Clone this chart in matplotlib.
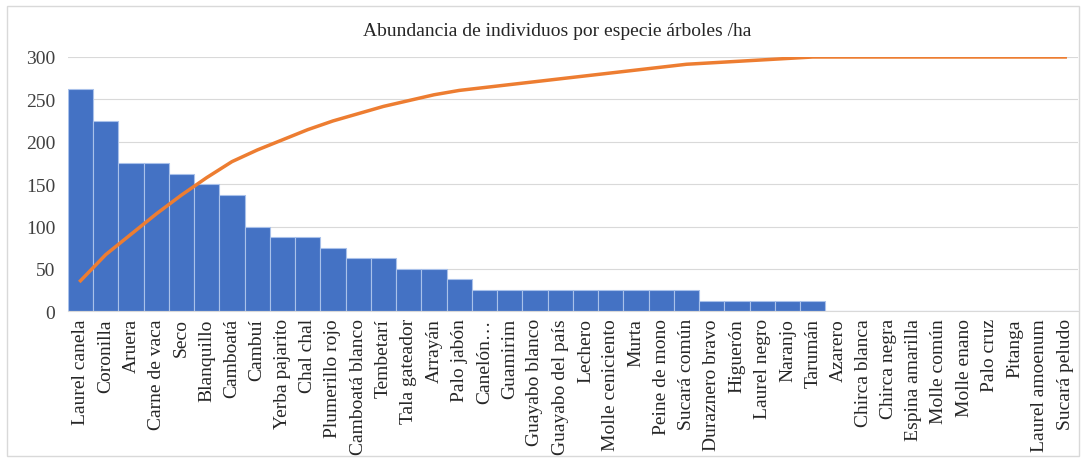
import numpy as np
import matplotlib.pyplot as plt
from matplotlib.patches import Rectangle

# -----------------------------
# Data
# -----------------------------
especies = [
    "Laurel canela", "Coronilla", "Aruera", "Carne de vaca", "Seco",
    "Blanquillo", "Camboatá", "Cambuí", "Yerba pajarito", "Chal chal",
    "Plumerillo rojo", "Camboatá blanco", "Tembetarí", "Tala gateador",
    "Arrayán", "Palo jabón", "Canelón…", "Guamirim", "Guayabo blanco",
    "Guayabo del país", "Lechero", "Molle ceniciento", "Murta",
    "Peine de mono", "Sucará común", "Duraznero bravo", "Higuerón",
    "Laurel negro", "Naranjo", "Tarumán", "Azarero", "Chirca blanca",
    "Chirca negra", "Espina amarilla", "Molle común", "Molle enano",
    "Palo cruz", "Pitanga", "Laurel amoenum", "Sucará peludo",
]
abundancia = [
    262.5, 225, 175, 175, 162.5,
    150, 137.5, 100, 87.5, 87.5,
    75, 62.5, 62.5, 50,
    50, 37.5, 25, 25, 25,
    25, 25, 25, 25,
    25, 25, 12.5, 12.5,
    12.5, 12.5, 12.5, 0, 0,
    0, 0, 0, 0,
    0, 0, 0, 0,
]
titulo = "Abundancia de individuos por especie árboles /ha"

# cumulative percentage (Pareto line, secondary axis 0-100 %)
acum_pct = np.cumsum(abundancia) / np.sum(abundancia) * 100

# -----------------------------
# Plot
# -----------------------------
plt.rcParams["font.family"] = ["Liberation Serif", "DejaVu Serif"]

fig = plt.figure(figsize=(10.86, 4.64), dpi=100)
ax = fig.add_axes([0.0625, 0.327, 0.93, 0.548])

x = np.arange(len(especies))
ax.bar(x, abundancia, width=1.0, color="#4472C4", edgecolor="#A9C1EA",
       linewidth=0.8, zorder=2)

ax.set_xlim(-0.5, len(especies) - 0.5)
ax.set_ylim(0, 300)
ax.set_yticks(np.arange(0, 301, 50))
ax.yaxis.grid(True, color="#D9D9D9", linewidth=0.8, zorder=0)
ax.set_axisbelow(True)
for s in ["top", "right", "left"]:
    ax.spines[s].set_visible(False)
ax.spines["bottom"].set_color("#D9D9D9")
ax.tick_params(axis="y", length=0, labelsize=14, colors="#404040", pad=9)
ax.tick_params(axis="x", length=0, labelsize=14, colors="#262626", pad=5)
ax.set_xticks(x)
ax.set_xticklabels(especies, rotation=90)

ax2 = ax.twinx()
ax2.plot(x, acum_pct, color="#ED7D31", linewidth=2.5, zorder=3)
ax2.set_ylim(0, 100)
ax2.set_yticks([])
for s in ax2.spines.values():
    s.set_visible(False)

fig.text(0.513, 0.933, titulo, ha="center", va="center", fontsize=14,
         color="#262626")

fig.patches.append(Rectangle((0.006, 0.015), 0.988, 0.97, transform=fig.transFigure,
                             fill=False, edgecolor="#D9D9D9", linewidth=1))

fig.savefig("out.png", dpi=100)
